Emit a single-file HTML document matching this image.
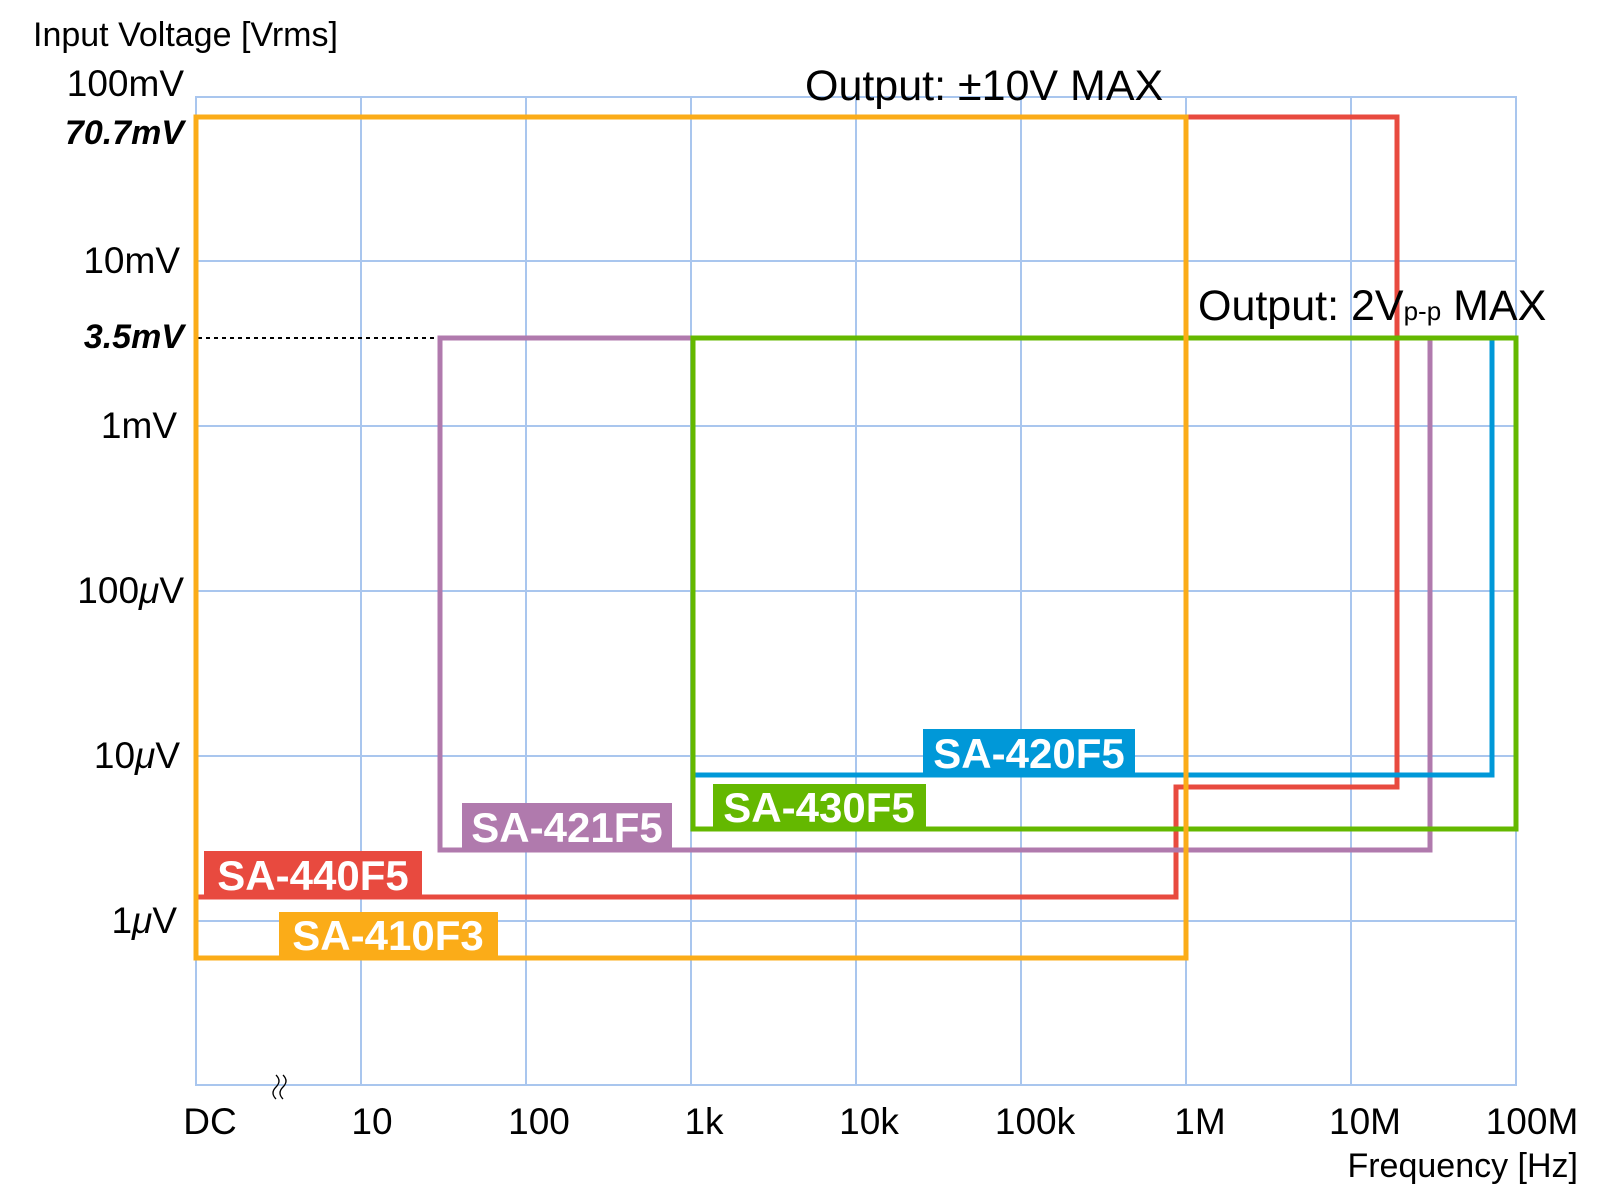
<!DOCTYPE html>
<html><head><meta charset="utf-8"><style>
html,body{margin:0;padding:0;background:#fff;}
svg{display:block;}
text{font-family:"Liberation Sans",sans-serif;}
</style></head><body>
<svg width="1600" height="1192" viewBox="0 0 1600 1192" xmlns="http://www.w3.org/2000/svg">
<g stroke="#a9c6ee" stroke-width="2" fill="none">
<rect x="196" y="97" width="1320" height="988"/>
<line x1="361" y1="97" x2="361" y2="1085"/><line x1="526" y1="97" x2="526" y2="1085"/>
<line x1="691" y1="97" x2="691" y2="1085"/><line x1="856" y1="97" x2="856" y2="1085"/>
<line x1="1021" y1="97" x2="1021" y2="1085"/><line x1="1186" y1="97" x2="1186" y2="1085"/>
<line x1="1351" y1="97" x2="1351" y2="1085"/>
<line x1="196" y1="261" x2="1516" y2="261"/><line x1="196" y1="426" x2="1516" y2="426"/>
<line x1="196" y1="591" x2="1516" y2="591"/><line x1="196" y1="756" x2="1516" y2="756"/>
<line x1="196" y1="921" x2="1516" y2="921"/>
</g>
<line x1="198" y1="338" x2="440" y2="338" stroke="#000" stroke-width="2" stroke-dasharray="4,4"/>
<g fill="none" stroke-width="5">
<polyline points="196,897 1176,897 1176,787 1397,787 1397,117 1186,117" stroke="#e84a3f"/>
<rect x="440" y="338" width="990" height="512" stroke="#b07aad"/>
<polyline points="693,775 1492,775 1492,338" stroke="#0098d8"/>
<rect x="693" y="338" width="823" height="491" stroke="#64b800"/>
<rect x="196" y="117" width="990" height="841" stroke="#fbac18"/>
</g>
<rect x="923" y="729" width="212" height="46" fill="#0098d8"/>
<text x="1029" y="768" font-size="42" font-weight="bold" fill="#fff" text-anchor="middle">SA-420F5</text>
<rect x="713" y="784" width="213" height="45" fill="#64b800"/>
<text x="819" y="822" font-size="42" font-weight="bold" fill="#fff" text-anchor="middle">SA-430F5</text>
<rect x="462" y="803" width="210" height="47" fill="#b07aad"/>
<text x="567" y="842" font-size="42" font-weight="bold" fill="#fff" text-anchor="middle">SA-421F5</text>
<rect x="204" y="851" width="218" height="46" fill="#e84a3f"/>
<text x="313" y="890" font-size="42" font-weight="bold" fill="#fff" text-anchor="middle">SA-440F5</text>
<rect x="279" y="912" width="219" height="46" fill="#fbac18"/>
<text x="388" y="950" font-size="42" font-weight="bold" fill="#fff" text-anchor="middle">SA-410F3</text>
<text x="805" y="100" font-size="43" fill="#000">Output: ±10V MAX</text>
<text x="1198" y="320" font-size="43" fill="#000">Output: 2V<tspan font-size="26">p-p</tspan> MAX</text>
<text x="33" y="46" font-size="34">Input Voltage [Vrms]</text>
<g font-size="37" text-anchor="end">
<text x="184" y="96">100mV</text>
<text x="184" y="144" font-weight="bold" font-style="italic" font-size="34">70.7mV</text>
<text x="180" y="273">10mV</text>
<text x="184" y="348" font-weight="bold" font-style="italic" font-size="34">3.5mV</text>
<text x="177" y="438">1mV</text>
<text x="184" y="603">100<tspan font-style="italic">μ</tspan>V</text>
<text x="180" y="768">10<tspan font-style="italic">μ</tspan>V</text>
<text x="177" y="933">1<tspan font-style="italic">μ</tspan>V</text>
</g>
<g font-size="37" text-anchor="middle">
<text x="210" y="1134">DC</text>
<text x="372" y="1134">10</text>
<text x="539" y="1134">100</text>
<text x="704" y="1134">1k</text>
<text x="869" y="1134">10k</text>
<text x="1035" y="1134">100k</text>
<text x="1200" y="1134">1M</text>
<text x="1365" y="1134">10M</text>
<text x="1532" y="1134">100M</text>
</g>
<text x="1578" y="1177" font-size="34" text-anchor="end">Frequency [Hz]</text>
<path d="M276,1075 q6,6 0,12 q-6,6 0,12 M283,1075 q6,6 0,12 q-6,6 0,12" stroke="#000" stroke-width="1.3" fill="none"/>
</svg>
</body></html>
